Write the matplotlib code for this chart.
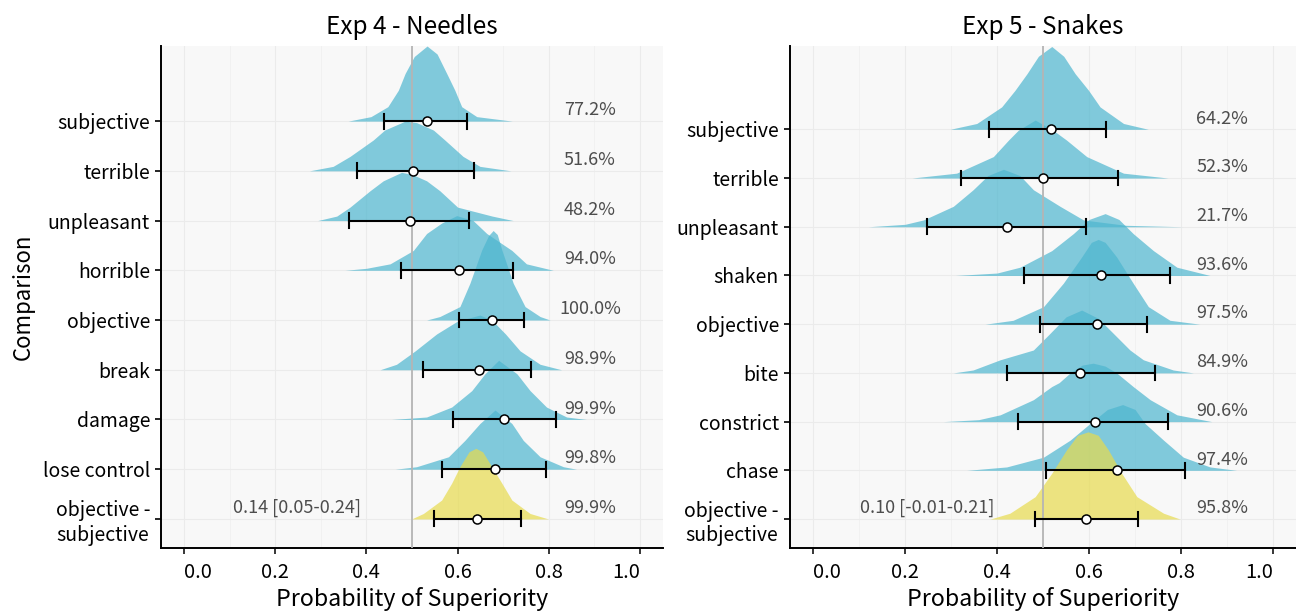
import numpy as np
import matplotlib.pyplot as plt

plt.rcParams['font.family'] = ['Noto Sans CJK JP', 'DejaVu Sans']

# rows listed top -> bottom (row 9 .. row 1)
needles_labels = ["subjective", "terrible", "unpleasant", "horrible", "objective",
                  "break", "damage", "lose control", "objective -\nsubjective"]
snakes_labels = ["subjective", "terrible", "unpleasant", "shaken", "objective",
                 "bite", "constrict", "chase", "objective -\nsubjective"]

# density outlines: x positions and heights (in row units)
needles_dx = [
    [0.36, 0.41, 0.447, 0.47, 0.485, 0.505, 0.533, 0.555, 0.576, 0.594, 0.609, 0.642, 0.72],
    [0.275, 0.327, 0.364, 0.415, 0.44, 0.485, 0.51, 0.547, 0.572, 0.612, 0.649, 0.717],
    [0.293, 0.335, 0.364, 0.408, 0.437, 0.477, 0.50, 0.532, 0.561, 0.60, 0.676, 0.722],
    [0.353, 0.40, 0.452, 0.503, 0.532, 0.565, 0.598, 0.634, 0.664, 0.719, 0.751, 0.81],
    [0.532, 0.561, 0.605, 0.627, 0.653, 0.668, 0.678, 0.687, 0.697, 0.722, 0.748, 0.781, 0.803],
    [0.43, 0.466, 0.507, 0.554, 0.60, 0.649, 0.675, 0.705, 0.737, 0.781, 0.828],
    [0.455, 0.532, 0.587, 0.631, 0.66, 0.69, 0.73, 0.759, 0.795, 0.839, 0.883],
    [0.463, 0.51, 0.58, 0.616, 0.649, 0.682, 0.719, 0.744, 0.781, 0.832, 0.861],
    [0.499, 0.525, 0.565, 0.587, 0.605, 0.625, 0.64, 0.655, 0.675, 0.697, 0.719, 0.759, 0.799],
]
needles_dh = [
    [0, 0.09, 0.29, 0.62, 0.96, 1.3, 1.51, 1.35, 0.96, 0.62, 0.29, 0.09, 0],
    [0, 0.09, 0.29, 0.62, 0.82, 1.0, 0.97, 0.82, 0.62, 0.29, 0.09, 0],
    [0, 0.09, 0.27, 0.6, 0.8, 0.97, 0.93, 0.8, 0.6, 0.27, 0.09, 0],
    [0, 0.04, 0.13, 0.4, 0.74, 0.95, 1.1, 1.0, 0.74, 0.4, 0.13, 0],
    [0, 0.07, 0.27, 0.74, 1.41, 1.7, 1.8, 1.72, 1.41, 0.74, 0.27, 0.07, 0],
    [0, 0.11, 0.38, 0.72, 0.98, 1.1, 1.0, 0.72, 0.38, 0.11, 0],
    [0, 0.05, 0.25, 0.58, 0.92, 1.19, 0.92, 0.58, 0.25, 0.05, 0],
    [0, 0.05, 0.25, 0.58, 0.92, 1.19, 0.92, 0.58, 0.25, 0.05, 0],
    [0, 0.11, 0.38, 0.72, 1.05, 1.35, 1.42, 1.35, 1.05, 0.72, 0.38, 0.11, 0],
]
snakes_dx = [
    [0.298, 0.356, 0.41, 0.439, 0.465, 0.49, 0.519, 0.545, 0.57, 0.599, 0.624, 0.675, 0.729],
    [0.215, 0.312, 0.392, 0.425, 0.446, 0.483, 0.522, 0.551, 0.595, 0.675, 0.772],
    [0.12, 0.20, 0.24, 0.305, 0.348, 0.38, 0.414, 0.45, 0.479, 0.537, 0.588, 0.68, 0.805],
    [0.309, 0.40, 0.45, 0.519, 0.566, 0.60, 0.635, 0.665, 0.696, 0.74, 0.791, 0.863],
    [0.374, 0.435, 0.501, 0.544, 0.584, 0.605, 0.62, 0.635, 0.66, 0.696, 0.729, 0.776, 0.841],
    [0.305, 0.348, 0.407, 0.479, 0.515, 0.55, 0.584, 0.62, 0.653, 0.689, 0.718, 0.783, 0.827],
    [0.283, 0.36, 0.407, 0.479, 0.519, 0.535, 0.559, 0.585, 0.609, 0.635, 0.66, 0.696, 0.733, 0.791, 0.867],
    [0.334, 0.421, 0.501, 0.559, 0.602, 0.64, 0.673, 0.70, 0.722, 0.762, 0.805, 0.863, 0.921],
    [0.385, 0.428, 0.483, 0.519, 0.551, 0.575, 0.598, 0.62, 0.642, 0.671, 0.704, 0.762, 0.798],
]
snakes_dh = [
    [0, 0.12, 0.46, 0.8, 1.14, 1.5, 1.70, 1.5, 1.14, 0.8, 0.46, 0.12, 0],
    [0, 0.1, 0.44, 0.78, 0.98, 1.19, 0.98, 0.78, 0.44, 0.1, 0],
    [0, 0.05, 0.14, 0.42, 0.76, 1.05, 1.18, 1.05, 0.76, 0.42, 0.14, 0.03, 0],
    [0, 0.05, 0.17, 0.51, 0.86, 1.15, 1.27, 1.15, 0.86, 0.51, 0.17, 0],
    [0, 0.08, 0.36, 0.84, 1.38, 1.68, 1.74, 1.68, 1.38, 0.84, 0.36, 0.08, 0],
    [0, 0.06, 0.27, 0.47, 0.81, 1.15, 1.29, 1.12, 0.81, 0.47, 0.27, 0.06, 0],
    [0, 0.04, 0.14, 0.45, 0.72, 0.80, 1.0, 1.16, 1.2, 1.14, 1.0, 0.72, 0.45, 0.14, 0],
    [0, 0.07, 0.27, 0.62, 0.96, 1.25, 1.35, 1.25, 0.96, 0.62, 0.27, 0.07, 0],
    [0, 0.12, 0.46, 0.94, 1.42, 1.72, 1.79, 1.72, 1.42, 0.94, 0.46, 0.12, 0],
]

# point estimates and intervals
needles_mid = [0.533, 0.503, 0.496, 0.604, 0.676, 0.648, 0.702, 0.682, 0.642]
needles_lo = [0.439, 0.38, 0.362, 0.475, 0.602, 0.525, 0.589, 0.565, 0.548]
needles_hi = [0.62, 0.637, 0.625, 0.722, 0.746, 0.762, 0.815, 0.793, 0.739]
snakes_mid = [0.517, 0.499, 0.421, 0.626, 0.617, 0.58, 0.612, 0.661, 0.593]
snakes_lo = [0.383, 0.322, 0.247, 0.459, 0.493, 0.422, 0.445, 0.507, 0.483]
snakes_hi = [0.637, 0.662, 0.593, 0.776, 0.725, 0.743, 0.772, 0.809, 0.707]

needles_pct = ["77.2%", "51.6%", "48.2%", "94.0%", "100.0%", "98.9%", "99.9%", "99.8%", "99.9%"]
snakes_pct = ["64.2%", "52.3%", "21.7%", "93.6%", "97.5%", "84.9%", "90.6%", "97.4%", "95.8%"]
needles_diff = "0.14 [0.05-0.24]"
snakes_diff = "0.10 [-0.01-0.21]"

x_ticks = [0, 0.2, 0.4, 0.6, 0.8, 1.0]
x_ticklabels = ["0.0", "0.2", "0.4", "0.6", "0.8", "1.0"]

blue = "#4db6cf"
yellow = "#e7db4d"
txt_col = "#4d4d4d"

fig = plt.figure(figsize=(12.96, 6.12), dpi=100)
ax1 = fig.add_axes([0.1244, 0.1041, 0.387, 0.8207])
ax2 = fig.add_axes([0.6096, 0.1041, 0.3904, 0.8207])


def draw_panel(ax, title, labels, dx, dh, mid, lo, hi, pct, diff, ylim):
    n = len(labels)
    rows = np.arange(n, 0, -1)
    ax.set_facecolor("#f8f8f8")
    for i in range(n):
        col = yellow if i == n - 1 else blue
        x = np.array(dx[i])
        h = np.array(dh[i])
        ax.fill_between(x, rows[i], rows[i] + h, color=col, alpha=0.7, lw=0, zorder=2 + i * 0.01)
    ax.axvline(0.5, color="#b5b5b5", lw=1.3, zorder=3)
    for i in range(n):
        ax.plot([lo[i], hi[i]], [rows[i], rows[i]], color="black", lw=1.5, zorder=5)
        for e in (lo[i], hi[i]):
            ax.plot([e, e], [rows[i] - 0.15, rows[i] + 0.15], color="black", lw=1.5, zorder=5)
        ax.plot(mid[i], rows[i], "o", ms=6.5, mfc="white", mec="black", mew=1.1, zorder=6)
        ax.text(0.89, rows[i] + 0.22, pct[i], ha="center", va="center", fontsize=13, color=txt_col)
    ax.text(0.248, rows[-1] + 0.22, diff, ha="center", va="center", fontsize=13, color=txt_col)

    ax.set_xlim(-0.05, 1.05)
    ax.set_ylim(*ylim)
    ax.set_xticks(x_ticks)
    ax.set_xticklabels(x_ticklabels)
    tl = ax.get_xticklabels()
    tl[0].set_ha("left")
    tl[-1].set_ha("right")
    ax.set_xticks([0.1, 0.3, 0.5, 0.7, 0.9], minor=True)
    ax.set_yticks(rows)
    ax.set_yticklabels(labels, multialignment="center")
    ax.grid(True, which="major", color="#ebebeb", lw=0.8, zorder=0)
    ax.grid(True, which="minor", axis="x", color="#f0f0f0", lw=0.6, zorder=0)
    ax.set_axisbelow(True)
    for s in ("top", "right"):
        ax.spines[s].set_visible(False)
    for s in ("left", "bottom"):
        ax.spines[s].set_linewidth(1.4)
    ax.tick_params(axis="x", which="major", length=4, width=1.1, labelsize=14.5, pad=6)
    ax.tick_params(axis="x", which="minor", length=0)
    ax.tick_params(axis="y", length=4, width=1.2, labelsize=14, pad=4)
    ax.set_xlabel("Probability of Superiority", fontsize=16.7, labelpad=3)
    ax.set_title(title, fontsize=17.5, pad=9)


draw_panel(ax1, "Exp 4 - Needles", needles_labels, needles_dx, needles_dh,
           needles_mid, needles_lo, needles_hi, needles_pct, needles_diff, (0.41, 10.51))
draw_panel(ax2, "Exp 5 - Snakes", snakes_labels, snakes_dx, snakes_dh,
           snakes_mid, snakes_lo, snakes_hi, snakes_pct, snakes_diff, (0.40, 10.71))
ax1.set_ylabel("Comparison", fontsize=16, labelpad=6)

fig.savefig("out.png", dpi=100)
